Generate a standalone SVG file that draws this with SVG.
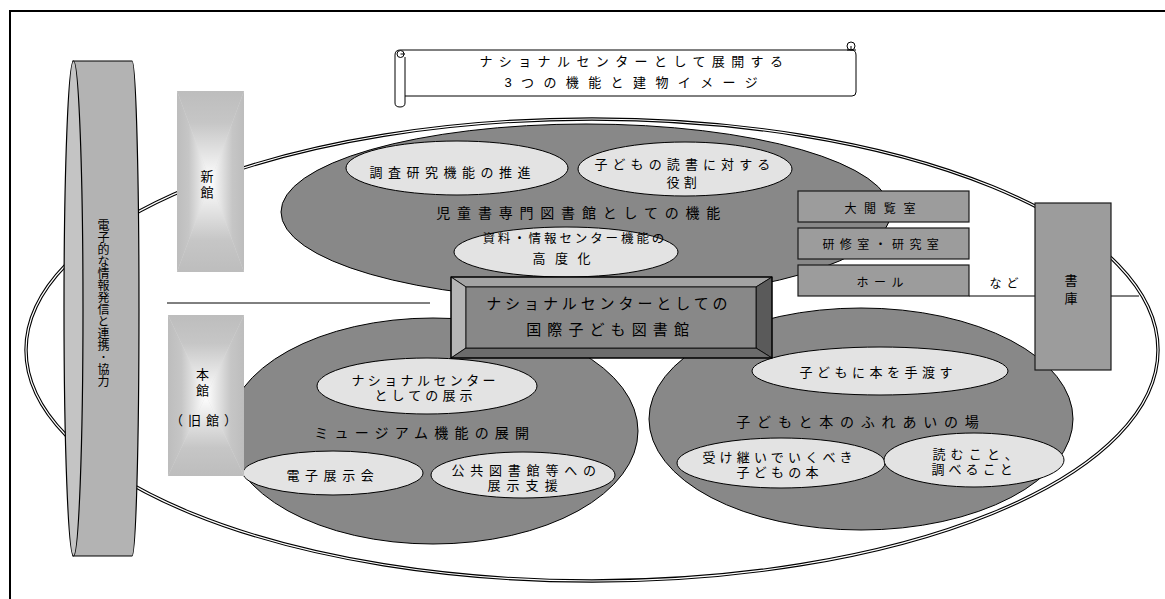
<svg xmlns="http://www.w3.org/2000/svg" width="1165" height="599" viewBox="0 0 1165 599">
<style>
text{font-family:"Liberation Sans","Noto Sans CJK JP",sans-serif;fill:#000;}
.t13{font-size:13px;}
.t12{font-size:12px;}
.t14{font-size:14px;}
.t15{font-size:15px;}
.mid{text-anchor:middle;}
.vert{writing-mode:vertical-rl;text-orientation:upright;}
.dark{fill:#888888;stroke:#000;stroke-width:1;}
.light{fill:#e3e3e3;stroke:#000;stroke-width:1;}
.room{fill:#9c9c9c;stroke:#1a1a1a;stroke-width:1.2;}
.dblo{fill:none;stroke:#000;stroke-width:3.4;}
.dbli{fill:none;stroke:#fff;stroke-width:1.2;}
.ln{stroke:#000;stroke-width:1;fill:none;}
</style>
<defs>
<linearGradient id="gT" x1="0" y1="0" x2="0" y2="1"><stop offset="0" stop-color="#bdbdbd"/><stop offset="0.35" stop-color="#c6c6c6"/><stop offset="1" stop-color="#ffffff"/></linearGradient>
<linearGradient id="gB" x1="0" y1="1" x2="0" y2="0"><stop offset="0" stop-color="#bdbdbd"/><stop offset="0.35" stop-color="#c6c6c6"/><stop offset="1" stop-color="#ffffff"/></linearGradient>
<linearGradient id="gL" x1="0" y1="0" x2="1" y2="0"><stop offset="0" stop-color="#bdbdbd"/><stop offset="0.35" stop-color="#c6c6c6"/><stop offset="1" stop-color="#ffffff"/></linearGradient>
<linearGradient id="gR" x1="1" y1="0" x2="0" y2="0"><stop offset="0" stop-color="#bdbdbd"/><stop offset="0.35" stop-color="#c6c6c6"/><stop offset="1" stop-color="#ffffff"/></linearGradient>
</defs>
<rect x="0" y="0" width="1165" height="599" fill="#fff"/>
<g id="frame">
<path d="M10,599 V11 H1165" fill="none" stroke="#000" stroke-width="2"/>
</g>
<g id="connectors">
<ellipse cx="592" cy="350" rx="566" ry="231" class="dblo"/>
<ellipse cx="592" cy="350" rx="566" ry="231" class="dbli"/>
<line x1="167" y1="303" x2="430" y2="303" class="ln"/>
<line x1="969" y1="296" x2="1139" y2="296" class="ln"/>
</g>
<g id="childrens-library">
<ellipse cx="586" cy="212" rx="305" ry="88" class="dark"/>
<ellipse cx="457" cy="168" rx="111" ry="27" class="light"/>
<ellipse cx="685" cy="169" rx="107" ry="27" class="light"/>
<ellipse cx="566" cy="252" rx="112" ry="25" class="light"/>
<text class="t14" x="436.3" y="218.3" letter-spacing="6.8">児童書専門図書館としての機能</text>
<text class="t13" x="369.4" y="177" letter-spacing="5.5">調査研究機能の推進</text>
<text class="t13"><tspan x="594.4" y="169" letter-spacing="5.1">子どもの読書に対する</tspan><tspan x="666.4" y="186.5" letter-spacing="4.3">役割</tspan></text>
<text style="font-size:12.5px"><tspan x="482.4" y="242.5" letter-spacing="2.9">資料・情報センター機能の</tspan><tspan x="532.4" y="262.5" letter-spacing="9.6" style="font-size:13px">高度化</tspan></text>
</g>
<g id="museum">
<ellipse cx="433" cy="431" rx="205" ry="113" class="dark"/>
<ellipse cx="427" cy="386" rx="110" ry="28" class="light"/>
<ellipse cx="333" cy="473" rx="90" ry="22" class="light"/>
<ellipse cx="523" cy="475" rx="92" ry="23" class="light"/>
<text class="t13"><tspan x="351.4" y="385" letter-spacing="3.4">ナショナルセンター</tspan><tspan x="374.4" y="400" letter-spacing="4.1">としての展示</tspan></text>
<text class="t14" x="314.3" y="438.3" letter-spacing="6.2">ミュージアム機能の展開</text>
<text class="t13" x="286.4" y="480" letter-spacing="5.6">電子展示会</text>
<text class="t13"><tspan x="451.4" y="475" letter-spacing="5.8">公共図書館等への</tspan><tspan x="487.4" y="490" letter-spacing="6.1">展示支援</tspan></text>
</g>
<g id="books-children">
<ellipse cx="861" cy="419" rx="212" ry="111" class="dark"/>
<ellipse cx="880" cy="371" rx="128" ry="24" class="light"/>
<ellipse cx="781" cy="463" rx="104" ry="25" class="light"/>
<ellipse cx="974" cy="460" rx="90" ry="27" class="light"/>
<text class="t13" x="799.4" y="377" letter-spacing="4.5">子どもに本を手渡す</text>
<text class="t14" x="736.3" y="427.3" letter-spacing="6.8">子どもと本のふれあいの場</text>
<text class="t13"><tspan x="702.4" y="462" letter-spacing="4.2">受け継いでいくべき</tspan><tspan x="736.4" y="477" letter-spacing="4.3">子どもの本</tspan></text>
<text class="t13"><tspan x="932.4" y="459" letter-spacing="5.2">読むこと、</tspan><tspan x="931.4" y="474" letter-spacing="4.1">調べること</tspan></text>
</g>
<g id="room-reading">
<rect x="798" y="191" width="171" height="31" class="room"/>
<text class="t12" x="844.4" y="212.6" letter-spacing="7.7">大閲覧室</text>
</g>
<g id="room-training">
<rect x="798" y="228" width="171" height="31" class="room"/>
<text class="t12" x="822.4" y="248.6" letter-spacing="5.4">研修室・研究室</text>
</g>
<g id="room-hall">
<rect x="798" y="265" width="171" height="31" class="room"/>
<text class="t12" x="856.4" y="286.6" letter-spacing="5.6">ホール</text>
</g>
<g id="etc-label">
<text class="t12" x="989.4" y="287.6" letter-spacing="5.2">など</text>
</g>
<g id="stacks">
<rect x="1035" y="203" width="76" height="167" class="room"/>
<text class="t13 mid"><tspan x="1071" y="285">書</tspan><tspan x="1071" y="303">庫</tspan></text>
</g>
<g id="center-box">
<polygon points="451,277 772,277 756,287 466,287" fill="#a3a3a3" stroke="#000" stroke-width="0.8"/>
<polygon points="451,277 466,287 466,348 451,358" fill="#b5b5b5" stroke="#000" stroke-width="0.8"/>
<polygon points="772,277 772,358 756,348 756,287" fill="#5a5a5a" stroke="#000" stroke-width="0.8"/>
<polygon points="451,358 772,358 756,348 466,348" fill="#6c6c6c" stroke="#000" stroke-width="0.8"/>
<rect x="466" y="287" width="290" height="61" fill="#888888" stroke="#000" stroke-width="0.8"/>
<rect x="451" y="277" width="321" height="81" fill="none" stroke="#000" stroke-width="1.2"/>
<text class="t15"><tspan x="486.2" y="309" letter-spacing="3.9">ナショナルセンターとしての</tspan><tspan x="526.2" y="334.7" letter-spacing="6.1">国際子ども図書館</tspan></text>
</g>
<g id="title-scroll">
<path d="M400,50 H851 Q856,50 856,55 V92 Q856,96 852,96 H405 V103 Q405,107 400,107 Q395,107 395,103 V55 Q395,50 400,50 Z" fill="#fff" stroke="#000" stroke-width="1"/>
<path d="M405,96 V57" class="ln"/>
<circle cx="400.5" cy="54" r="3.5" fill="#fff" stroke="#000" stroke-width="1"/>
<path d="M400.5,54 H405" class="ln"/>
<circle cx="851" cy="46" r="4" fill="#fff" stroke="#000" stroke-width="1"/>
<path d="M851,46 V50 M847,50 H856" class="ln"/>
<text class="t13"><tspan x="479.4" y="65.5" letter-spacing="6.4">ナショナルセンターとして展開する</tspan><tspan x="504.4" y="87" letter-spacing="9.4">3つの機能と建物イメージ</tspan></text>
</g>
<g id="network-cylinder">
<path d="M73,61 H132 A7,247.5 0 0 1 132,556 H73 Z" fill="#b3b3b3" stroke="#000" stroke-width="1.2"/>
<ellipse cx="73.5" cy="308.5" rx="9.5" ry="247.5" fill="#c4c4c4" stroke="#000" stroke-width="1.2"/>
<text class="vert t12" x="102" y="219">電子的な情報発信と連携･協力</text>
</g>
<g id="new-building">
<rect x="177" y="91" width="67" height="181" fill="#dedede"/>
<polygon points="177,91 244,91 210.5,181.5" fill="url(#gT)"/>
<polygon points="177,272 244,272 210.5,181.5" fill="url(#gB)"/>
<polygon points="177,91 177,272 210.5,181.5" fill="url(#gL)"/>
<polygon points="244,91 244,272 210.5,181.5" fill="url(#gR)"/>
<text class="t13 mid"><tspan x="207" y="181">新</tspan><tspan x="207" y="197">館</tspan></text>
</g>
<g id="main-building">
<rect x="168" y="315" width="76" height="161" fill="#dedede"/>
<polygon points="168,315 244,315 206,395.5" fill="url(#gT)"/>
<polygon points="168,476 244,476 206,395.5" fill="url(#gB)"/>
<polygon points="168,315 168,476 206,395.5" fill="url(#gL)"/>
<polygon points="244,315 244,476 206,395.5" fill="url(#gR)"/>
<text class="t13"><tspan x="202.5" y="379" text-anchor="middle">本</tspan><tspan x="202.5" y="395" text-anchor="middle">館</tspan><tspan x="170" y="424.5" letter-spacing="5">（旧館）</tspan></text>
</g>
</svg>
